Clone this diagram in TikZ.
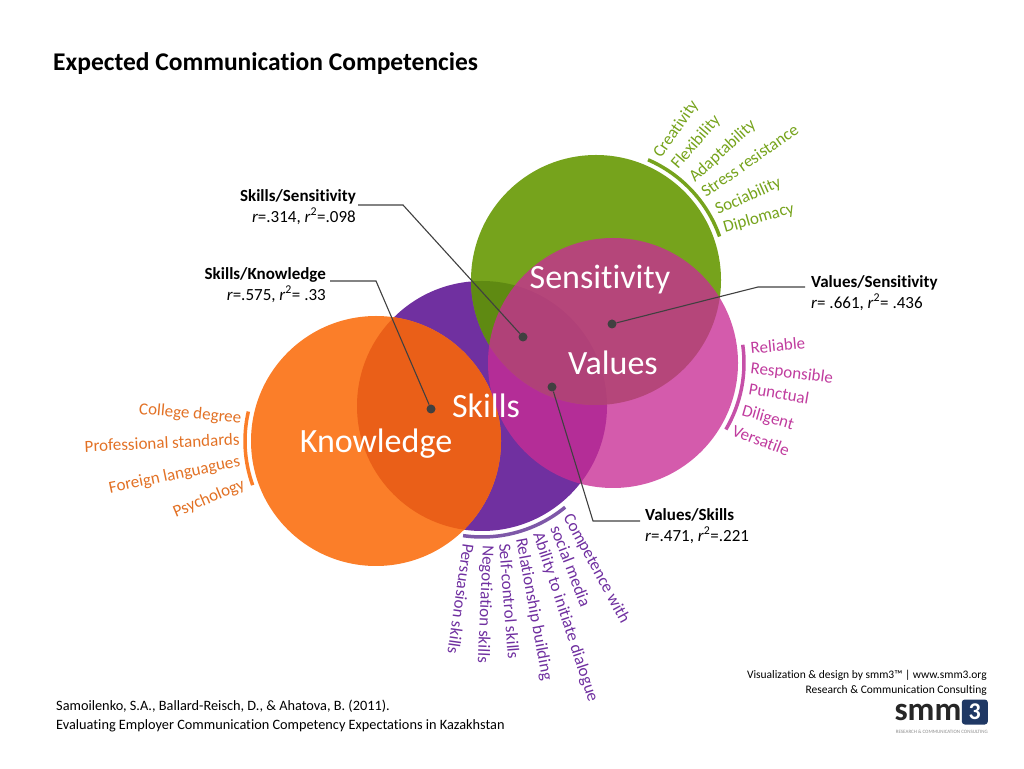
\documentclass[tikz,border=0pt]{standalone}
\usepackage{fontspec}
\setmainfont{Carlito}[Ligatures=CommonOff]
\usepackage{tikz}
\usetikzlibrary{positioning}
\definecolor{orangeC}{HTML}{FB7E29}
\definecolor{orangeD}{HTML}{EA5F18}
\definecolor{purpleC}{HTML}{7030A0}
\definecolor{purpleL}{HTML}{7E58A8}
\definecolor{greenC}{HTML}{76A31C}
\definecolor{greenD}{HTML}{5F8A12}
\definecolor{pinkC}{HTML}{C82D95}
\definecolor{pinkT}{HTML}{C03C9E}
\definecolor{leadC}{HTML}{404040}
\definecolor{navyC}{HTML}{1F3864}
\begin{document}
\begin{tikzpicture}[
  x=1pt, y=1pt,
  big/.style={text=white, font=\fontsize{34}{34}\selectfont, inner sep=0pt},
  stat/.style={font=\fontsize{17}{21}\selectfont, align=right, inner sep=0pt},
  statl/.style={font=\fontsize{17}{21}\selectfont, align=left, inner sep=0pt},
  item/.style={font=\fontsize{17}{17}\selectfont, inner sep=0pt},
  dot/.style={circle, fill=leadC, minimum size=9pt, inner sep=0pt},
  lead/.style={leadC, line width=1.1pt},
  band/.style={line width=3.5pt}
]
  \useasboundingbox (0,0) rectangle (1024,768);
  \def\R{125}
  \def\B{131}
  \coordinate (cO) at (376,327);
  \coordinate (cV) at (482,362);
  \coordinate (cG) at (596,488);
  \coordinate (cP) at (613,405);
  % circles
  \fill[purpleC] (cV) circle (\R);
  \fill[orangeC] (cO) circle (\R);
  \begin{scope}
    \clip (cV) circle (\R);
    \fill[orangeD] (cO) circle (\R);
  \end{scope}
  \fill[greenC] (cG) circle (\R);
  \begin{scope}
    \clip (cV) circle (\R);
    \fill[greenD] (cG) circle (\R);
  \end{scope}
  \fill[pinkC, fill opacity=.78] (cP) circle (\R);
  % arcs next to the circles
  \draw[band, greenC] (cG) ++(66.6:\B) arc (66.6:19.4:\B);
  \draw[band, pinkT!90!white] (cP) ++(8:\B) arc (8:-30.5:\B);
  \draw[band, purpleL] (cV) ++(-98.3:\B) arc (-98.3:-50.6:\B);
  \draw[band, orangeC] (cO) ++(167:\B) arc (167:199.7:\B);
  % title and credits
  \node[anchor=base west, inner sep=0pt, font=\bfseries\fontsize{25.5}{25.5}\selectfont] (title) at (53,697) {Expected Communication Competencies};
  \node[anchor=north west, inner sep=0pt, align=left, font=\fontsize{14.3}{18.5}\selectfont] (source) at (56,68) {Samoilenko, S.A., Ballard-Reisch, D., \& Ahatova, B. (2011).\\Evaluating Employer Communication Competency Expectations in Kazakhstan};
  \node[anchor=north east, inner sep=0pt, align=right, font=\fontsize{11.5}{14.5}\selectfont] (credit) at (987,98) {Visualization \& design by smm3™ | www.smm3.org\\Research \& Communication Consulting};
  \node[anchor=east, inner sep=0pt, minimum width=26pt, minimum height=25pt, rounded corners=3pt, fill=navyC, text=white, font=\bfseries\fontsize{24}{24}\selectfont] (logoB) at (988,56) {3};
  \node[left=0pt of logoB, inner sep=0pt, text=black!85, font=\bfseries\fontsize{33}{33}\selectfont] (logo) {smm};
  \node[anchor=east, inner sep=0pt, text=black!45, font=\fontsize{5}{5}\selectfont] (logosub) at (988,36) {RESEARCH \& COMMUNICATION CONSULTING};
  % circle names
  \node[big] (sens) at (600,488) {Sensitivity};
  \node[big] (vals) at (613,405) {Values};
  \node[big] (skills) at (486,362) {Skills};
  \node[big] (know) at (376,324) {Knowledge};
  % correlations
  \node[stat, anchor=north east] (ss) at (356,579) {\textbf{Skills/Sensitivity}\\\textit{r}=.314, \textit{r}\textsuperscript{2}=.098};
  \node[stat, anchor=north east] (sk) at (326,501) {\textbf{Skills/Knowledge}\\\textit{r}=.575, \textit{r}\textsuperscript{2}= .33};
  \node[statl, anchor=north west] (vs) at (811,493) {\textbf{Values/Sensitivity}\\\textit{r}= .661, \textit{r}\textsuperscript{2}= .436};
  \node[statl, anchor=north west] (vk) at (645,260) {\textbf{Values/Skills}\\\textit{r}=.471, \textit{r}\textsuperscript{2}=.221};
  \node[dot] (dss) at (523,431) {};
  \node[dot] (dsk) at (431,359) {};
  \node[dot] (dvs) at (612,444) {};
  \node[dot] (dvk) at (552,381) {};
  \coordinate (css) at (403,563);
  \coordinate (csk) at (376,487);
  \coordinate (cvs) at (758,481);
  \coordinate (cvk) at (593,247);
  \coordinate (sss) at (358,563);
  \coordinate (ssk) at (330,487);
  \coordinate (svs) at (805,481);
  \coordinate (svk) at (640,247);
  \draw[lead] (sss) -- (css) -- (dss);
  \draw[lead] (ssk) -- (csk) -- (dsk);
  \draw[lead] (svs) -- (cvs) -- (dvs);
  \draw[lead] (svk) -- (cvk) -- (dvk);
  % green items
  \node[item, text=greenC, rotate=55, anchor=base west] (g1) at (661,609) {Creativity};
  \node[item, text=greenC, rotate=49, anchor=base west] (g2) at (678,598) {Flexibility};
  \node[item, text=greenC, rotate=42.5, anchor=base west] (g3) at (695,585) {Adaptability};
  \node[item, text=greenC, rotate=35, anchor=base west] (g4) at (706,570) {Stress resistance};
  \node[item, text=greenC, rotate=24, anchor=base west] (g5) at (718,553) {Sociability};
  \node[item, text=greenC, rotate=16, anchor=base west] (g6) at (725,535) {Diplomacy};
  % pink items
  \node[item, text=pinkT, rotate=5.4, anchor=base west] (p1) at (751,414) {Reliable};
  \node[item, text=pinkT, rotate=-7, anchor=base west] (p2) at (750,395) {Responsible};
  \node[item, text=pinkT, rotate=-9.6, anchor=base west] (p3) at (748,374) {Punctual};
  \node[item, text=pinkT, rotate=-16, anchor=base west] (p4) at (741,353) {Diligent};
  \node[item, text=pinkT, rotate=-21, anchor=base west] (p5) at (731,333) {Versatile};
  % purple items
  \node[item, text=purpleC, rotate=-98, anchor=base west] (v1) at (463,225) {Persuasion skills};
  \node[item, text=purpleC, rotate=-92.5, anchor=base west] (v2) at (483,223) {Negotiation skills};
  \node[item, text=purpleC, rotate=-85.5, anchor=base west] (v3) at (499,224) {Self-control skills};
  \node[item, text=purpleC, rotate=-79.5, anchor=base west] (v4) at (516,229) {Relationship building};
  \node[item, text=purpleC, rotate=-71.7, anchor=base west] (v5) at (533,234) {Ability to initiate dialogue};
  \node[item, text=purpleC, rotate=-69, anchor=base west] (v6) at (550,240) {social media};
  \node[item, text=purpleC, rotate=-61.5, anchor=base west] (v7) at (563,251) {Competence with};
  % orange items
  \node[item, text=orangeC!90!black, rotate=-5, anchor=base east] (o1) at (241,345) {College degree};
  \node[item, text=orangeC!90!black, rotate=2.6, anchor=base east] (o2) at (240,323) {Professional standards};
  \node[item, text=orangeC!90!black, rotate=11.7, anchor=base east] (o3) at (241,302) {Foreign languagues};
  \node[item, text=orangeC!90!black, rotate=22.8, anchor=base east] (o4) at (246,280) {Psychology};
\end{tikzpicture}
\end{document}
